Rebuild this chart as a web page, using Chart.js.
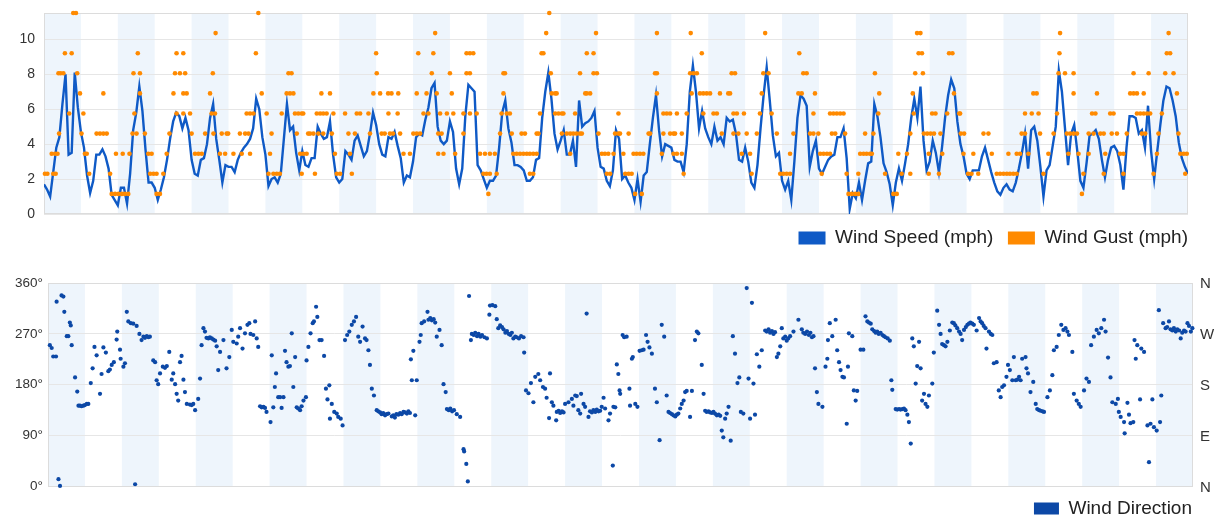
<!DOCTYPE html>
<html><head><meta charset="utf-8">
<script src="https://cdn.jsdelivr.net/npm/chart.js@4.4.1/dist/chart.umd.min.js"></script>
<style>
html,body{margin:0;padding:0;background:#fff;width:1224px;height:520px;overflow:hidden;}
#c1{position:absolute;left:0;top:0;}
#c2{position:absolute;left:0;top:260px;}
</style></head><body>
<canvas id="c1" width="1224" height="258"></canvas>
<canvas id="c2" width="1224" height="268"></canvas>
<script>
// ---- data (x = hours since start, one band = 12 h) ----
const HOURS_MAX = 372;
const BAND_HOURS = 12;
const KNOT_MPH = 1.1508;

// hourly wind speed (mph), hour 0..372
const speedMph = [
1.7,1.4,1.0,2.4,3.8,4.4,6.3,8.0,3.4,3.5,
8.1,6.1,4.7,3.8,2.2,1.2,1.9,3.4,3.4,3.7,
3.3,2.6,1.1,0.8,0.5,1.5,1.5,0.6,2.3,4.8,
5.8,7.3,5.9,3.7,1.8,1.8,1.5,0.8,1.4,2.1,
3.1,4.3,5.3,5.8,5.6,4.9,5.5,4.8,3.1,2.3,
2.2,3.1,3.2,4.0,5.5,6.3,4.3,3.1,1.8,2.8,
2.7,2.7,2.4,3.1,3.5,3.8,4.0,4.3,4.9,6.6,
6.0,4.4,3.4,1.6,2.0,2.1,1.8,2.3,4.3,6.3,
4.8,5.0,3.5,2.5,3.6,2.8,2.7,3.2,3.2,5.0,
4.6,4.3,4.4,5.3,3.4,2.1,1.8,2.0,3.6,3.4,
3.1,4.2,4.5,3.9,3.3,3.6,4.6,5.8,5.1,4.0,
3.4,3.3,4.4,4.3,4.7,3.9,3.2,1.8,2.2,2.1,
3.0,4.4,4.6,4.5,5.4,6.1,7.2,7.5,5.0,4.2,
4.0,4.2,5.3,4.7,2.6,1.7,2.6,5.6,7.4,7.2,
7.0,2.8,2.5,2.0,1.5,1.9,1.9,2.2,3.8,5.8,
6.5,4.9,4.1,2.8,2.8,2.7,2.5,1.9,1.9,2.1,
3.1,3.2,5.5,7.0,8.1,6.6,4.6,3.7,4.2,4.8,
3.4,3.4,4.2,2.7,6.5,5.0,5.2,5.3,5.5,5.9,
3.8,2.7,2.6,1.9,1.6,2.5,4.8,4.3,2.0,2.2,
1.8,1.5,0.8,2.0,0.7,2.2,2.4,4.0,5.5,6.8,
4.8,3.3,4.0,3.9,3.8,3.1,3.0,3.0,2.4,4.0,
7.0,8.5,7.0,4.9,5.9,4.9,4.4,4.0,5.0,4.2,
4.4,4.0,5.5,5.3,5.4,4.6,3.1,3.0,3.8,3.0,
1.8,1.5,2.8,4.9,6.8,8.4,6.5,4.5,3.3,3.5,
1.9,1.4,1.9,0.8,3.0,5.5,6.8,6.6,6.2,2.7,
3.6,4.2,2.6,2.3,2.7,3.1,3.3,3.4,4.4,4.4,
4.9,3.2,0.3,1.2,0.9,1.8,0.8,1.9,2.9,3.0,
6.3,5.6,4.4,2.9,2.4,1.7,0.5,1.8,2.6,1.9,
2.9,4.0,5.5,6.6,5.5,7.3,4.2,2.5,3.0,4.2,
3.5,2.4,3.8,5.5,6.8,7.7,7.2,5.3,4.0,3.3,
2.3,2.0,2.5,2.5,2.5,3.3,3.8,3.1,2.4,1.8,
1.3,1.1,1.5,1.7,1.4,1.3,1.8,2.6,3.5,4.6,
2.6,4.8,5.0,4.2,2.7,1.0,2.5,2.8,3.9,5.0,
8.2,7.0,4.9,2.8,4.6,5.1,3.6,1.9,1.5,2.9,
4.5,4.6,4.8,4.3,3.1,2.1,3.1,3.8,3.9,3.6,
2.8,1.4,3.8,5.6,5.6,5.5,4.6,4.8,3.8,6.2,
3.6,2.0,3.6,5.1,6.5,7.3,7.2,6.5,5.6,4.1,
3.2,2.7,2.3
];

// wind gust readings: hours at which a gust of N knots was reported
const gustKnots1 = [22.0,23.1,24.2,25.3,26.3,27.4,36.6,37.7,144.5,192.2,194.4,261.6,262.7,263.8,264.8,276.2,277.3,337.5];
const gustKnots2 = [0.3,1.1,3.0,3.8,14.7,21.5,34.5,35.6,36.6,38.8,73.0,74.6,75.7,76.7,83.8,88.1,95.2,96.3,100.1,142.9,143.9,145.0,147.2,158.0,159.1,183.0,184.1,189.0,190.1,191.1,208.0,230.1,239.4,240.4,241.5,242.6,252.9,261.0,264.8,273.5,278.9,281.7,287.7,291.0,300.5,301.6,303.8,309.8,310.9,312.0,313.1,314.1,315.2,316.3,325.0,338.0,344.6,351.0,360.8,371.1];
const gustKnots3 = [2.5,3.6,4.4,13.3,13.9,23.4,25.6,27.8,33.9,35.0,39.9,49.1,50.2,51.3,57.2,58.9,61.6,64.3,67.0,73.5,83.3,84.3,85.4,94.6,99.5,116.9,119.0,128.2,129.9,133.7,141.8,143.4,145.0,146.6,152.6,153.7,154.8,155.9,157.0,158.0,159.1,160.2,171.1,181.4,182.4,183.5,185.2,188.4,191.7,192.7,193.8,194.9,200.9,204.7,205.8,207.4,226.9,229.6,242.6,252.4,253.5,254.6,255.6,265.4,266.5,267.5,268.6,269.2,277.8,280.6,287.7,292.1,299.0,302.2,308.2,313.6,316.3,317.4,320.1,326.6,333.1,336.4,339.7,345.1,349.9,351.0,361.9,369.5,370.6,371.6];
const gustKnots4 = [4.9,12.2,17.1,18.2,19.3,20.4,28.8,30.1,32.8,40.8,48.0,52.4,55.1,57.8,59.4,59.9,63.7,65.4,66.5,74.0,82.2,85.9,86.5,87.6,89.2,90.8,93.6,99.0,101.1,106.0,109.8,110.8,112.5,113.5,115.8,120.1,121.2,122.3,128.2,129.3,136.4,148.3,152.1,155.3,156.4,160.2,160.8,168.4,170.0,171.1,172.1,173.2,174.3,174.9,180.3,185.7,186.8,187.3,190.1,196.6,197.1,201.4,203.6,204.7,205.2,207.4,220.4,224.2,225.8,228.5,231.8,238.3,243.7,249.1,250.2,251.8,256.2,257.3,260.5,267.0,269.7,281.7,286.1,287.2,288.3,289.4,291.5,298.1,299.2,305.5,307.1,317.9,319.0,323.9,328.3,332.6,333.7,334.8,335.9,339.7,341.3,343.5,344.6,347.2,348.9,352.1,357.0,358.1,362.4,368.9];
const gustKnots5 = [8.2,12.8,29.4,43.1,45.3,47.5,54.5,55.6,65.9,67.0,68.1,72.4,77.3,81.6,82.7,83.8,84.3,88.7,89.8,90.8,91.9,94.1,97.9,101.7,102.8,105.5,112.0,115.0,123.4,125.0,128.8,131.0,133.1,136.4,138.5,140.7,148.8,150.5,151.5,161.3,166.2,167.3,168.4,168.9,172.7,186.8,201.4,202.5,203.6,205.8,209.0,214.4,217.7,218.8,224.2,225.3,227.6,232.8,236.6,250.2,255.6,256.7,257.8,258.9,260.0,271.3,282.8,288.8,289.9,293.7,297.6,297.9,319.0,321.2,323.4,329.4,340.8,341.9,346.7,347.8,355.4,356.5,357.6,358.7,359.7,363.5];
const gustKnots6 = [11.7,19.3,31.2,42.1,45.3,46.4,54.0,70.8,78.9,80.0,81.1,90.2,93.0,107.1,109.3,111.9,113.0,115.2,121.2,124.4,127.7,132.6,149.4,165.1,166.2,166.7,176.0,176.5,177.6,199.3,210.6,213.3,214.4,215.5,216.6,219.8,222.5,223.1,233.4,245.3,246.4,250.7,271.6,282.5,295.9,321.7,322.8,334.8,342.4,353.2,354.3,355.4,357.6,368.4];
const gustKnots7 = [4.7,5.4,6.3,10.8,29.1,31.2,42.6,44.2,45.9,54.9,79.5,80.5,108.2,126.1,132.0,137.4,138.5,149.4,149.9,164.8,174.3,178.7,179.8,198.7,199.3,210.1,211.2,212.3,223.6,224.7,233.9,235.6,246.9,248.0,270.2,283.3,285.8,329.9,332.0,334.8,354.3,359.2,364.6,367.3];
const gustKnots8 = [6.8,9.0,30.5,43.1,45.3,68.9,108.0,121.7,126.6,137.4,138.5,139.6,161.8,162.4,176.5,178.7,213.9,245.6,284.4,285.5,294.3,295.4,330.2,365.1,366.2];
const gustKnots9 = [55.8,127.2,163.3,179.5,199.3,210.3,234.5,283.9,285.0,330.4,365.7];
const gustKnots10 = [9.5,10.4,69.7,164.3];
const gustLevels = [gustKnots1,gustKnots2,gustKnots3,gustKnots4,gustKnots5,gustKnots6,gustKnots7,gustKnots8,gustKnots9,gustKnots10];

// wind direction readings: [hour, degrees]
const windDirection = [
[0.6,250],[1.2,245],[1.7,230],[2.6,230],[2.8,327],[3.4,13],[3.9,1],[4.4,338],[5.0,336],[5.3,309],[6.1,266],[6.6,266],[7.1,290],[7.4,285],[7.7,250],[8.8,193],[9.5,168],[9.9,143],[10.4,143],[10.9,142],[11.5,143],[12.0,144],[12.6,146],[13.1,146],[13.9,183],[14.5,209],[15.1,247],[15.8,232],[16.9,164],[17.4,199],[18.0,246],[18.8,237],[19.6,204],[20.1,207],[20.7,215],[21.4,220],[22.3,260],[22.5,274],[23.4,242],[23.6,226],[24.5,212],[25.0,218],[25.6,309],[26.1,292],[26.9,289],[27.7,288],[28.3,4],[28.8,284],[29.7,270],[30.4,259],[31.0,265],[31.5,263],[32.1,266],[32.6,264],[33.1,265],[34.2,223],[34.8,220],[35.3,188],[35.8,181],[36.4,200],[37.3,212],[38.0,210],[38.6,213],[39.4,238],[40.2,189],[40.7,200],[41.3,181],[41.8,164],[42.3,152],[42.9,220],[43.4,231],[44.0,189],[44.5,167],[45.1,146],[46.1,145],[46.7,144],[47.2,146],[47.8,135],[48.8,155],[49.4,191],[49.9,250],[50.5,280],[51.0,274],[51.5,263],[52.1,262],[52.6,264],[53.2,262],[53.7,260],[54.3,258],[54.8,248],[55.3,206],[55.9,238],[57.0,259],[58.0,209],[58.9,229],[59.7,277],[60.2,256],[61.3,253],[61.8,265],[62.4,280],[63.2,244],[64.0,271],[64.8,286],[65.4,289],[65.8,270],[66.7,268],[67.3,292],[67.8,262],[68.3,247],[68.9,142],[69.4,140],[70.0,141],[70.5,139],[71.0,132],[72.3,114],[72.7,232],[73.2,140],[73.7,176],[74.1,200],[74.8,158],[75.4,158],[75.9,139],[76.5,158],[77.0,240],[77.5,220],[78.1,212],[78.6,213],[79.2,271],[79.7,176],[80.3,229],[80.8,140],[81.3,138],[81.9,135],[82.4,142],[83.0,152],[83.8,158],[84.0,223],[84.6,247],[85.3,271],[86.0,289],[86.4,292],[87.1,318],[87.5,300],[88.2,259],[88.9,259],[89.7,231],[90.3,173],[90.8,154],[91.4,179],[91.6,120],[92.2,146],[93.0,132],[93.8,129],[94.3,123],[95.1,120],[95.7,108],[96.5,259],[97.2,268],[97.9,274],[98.7,286],[99.4,292],[100.1,300],[100.8,265],[101.4,256],[102.2,283],[103.0,262],[103.5,259],[104.1,241],[104.6,215],[105.2,173],[105.9,161],[106.8,135],[107.3,133],[107.9,131],[108.4,128],[108.9,130],[109.5,126],[110.0,128],[110.6,129],[111.7,124],[112.2,126],[112.7,122],[113.2,128],[113.8,127],[114.4,130],[114.9,128],[115.5,132],[116.0,131],[116.6,129],[117.1,133],[117.6,130],
[117.9,225],[118.2,188],[118.7,240],[119.3,126],[119.8,188],[120.7,256],[121.1,268],[121.4,289],[122.2,292],[123.3,309],[123.6,295],[124.2,298],[124.7,294],[125.3,296],[125.8,290],[126.3,265],[127.2,277],[127.9,250],[128.5,181],[129.2,167],[129.6,137],[130.2,135],[130.7,138],[131.3,133],[131.9,135],[132.8,128],[133.9,123],[135.0,66],[135.2,62],[135.9,40],[136.4,9],[136.8,337],[137.4,259],[137.7,270],[138.3,268],[138.8,272],[139.4,266],[139.9,270],[140.5,265],[141.0,268],[141.8,264],[142.6,262],[143.4,304],[143.6,320],[144.4,321],[145.3,319],[145.8,296],[146.3,280],[146.9,285],[147.5,282],[148.0,278],[148.6,272],[149.1,275],[149.7,270],[150.2,268],[150.7,272],[151.2,262],[151.8,265],[152.3,264],[153.0,262],[153.7,266],[154.5,264],[154.7,237],[155.3,170],[156.1,165],[156.9,183],[157.7,149],[158.3,194],[159.3,199],[159.9,188],[160.8,176],[161.5,173],[162.0,157],[162.8,121],[163.1,200],[163.7,149],[164.2,143],[165.1,117],[165.3,132],[165.9,134],[166.4,130],[167.0,133],[167.5,131],[168.0,146],[169.1,149],[170.2,155],[170.7,143],[171.3,161],[171.8,160],[172.3,135],[172.9,129],[173.2,164],[174.0,146],[174.5,141],[175.0,306],[175.6,123],[176.1,133],[176.7,131],[177.2,135],[177.8,132],[178.3,136],[178.9,133],[179.4,134],[179.9,141],[180.5,157],[181.0,138],[182.1,117],[182.6,129],[183.5,37],[183.7,141],[184.3,140],[184.8,216],[185.3,199],[185.7,170],[185.9,164],[186.7,268],[187.2,264],[188.0,265],[188.9,173],[189.1,143],[189.7,226],[190.0,229],[190.8,146],[191.5,141],[192.2,240],[192.9,241],[193.5,242],[194.3,268],[194.8,256],[195.4,246],[196.2,235],[197.2,173],[197.8,149],[198.7,82],[199.4,286],[200.2,265],[201.0,161],[201.6,132],[202.1,130],[202.7,128],[203.2,126],[203.8,124],[204.3,127],[204.8,129],[205.4,138],[205.9,146],[206.5,152],[207.0,167],[207.5,169],[208.6,123],[209.2,169],[210.2,259],[210.8,274],[211.3,271],[212.4,215],[213.0,164],[213.5,134],[214.0,132],[214.6,133],[215.1,131],[215.7,130],[216.2,132],[216.7,129],[217.3,126],[217.9,127],[218.4,125],[218.9,99],[219.4,87],[220.0,120],[220.5,129],[221.1,141],[221.8,81],[222.5,266],[223.2,235],[224.0,183],[224.6,193],[225.1,132],[225.9,129],[227.0,351],[227.6,191],[228.1,120],[228.7,325],[229.2,182],[229.7,127],[230.3,234],[231.1,212],[231.9,241],[233.0,276],[233.5,274],[234.1,278],[234.6,272],[235.2,275],[235.7,270],[236.2,273],[236.8,229],[237.3,235],[237.9,248],[238.4,280],[238.9,262],[239.5,265],[240.0,258],[240.5,262],[241.1,266],[242.2,274],[243.8,295],[244.9,278],[245.4,272],[246.0,270],[246.6,274],[247.2,268],[247.7,272],[248.2,264],[248.7,266],[249.2,209],[249.8,167],[250.3,146],
[251.6,141],[252.6,212],[253.2,226],[253.4,259],[254.0,289],[254.8,266],[255.9,295],[256.4,241],[257.0,220],[257.5,206],[258.1,194],[258.6,193],[259.5,111],[259.9,212],[260.2,271],[261.3,266],[261.8,170],[262.4,152],[262.9,169],[264.0,242],[264.9,242],[265.6,301],[266.2,292],[266.7,290],[267.3,288],[267.8,278],[268.4,275],[268.9,272],[269.4,274],[269.9,270],[270.5,272],[271.1,268],[271.6,266],[272.1,264],[272.8,262],[273.5,258],[274.0,188],[274.3,171],[275.4,137],[275.9,136],[276.5,137],[277.0,136],[277.6,137],[278.1,138],[278.6,135],[279.2,127],[279.7,114],[280.3,76],[280.8,262],[281.3,248],[281.9,182],[282.4,213],[283.0,256],[283.5,209],[284.0,152],[284.6,164],[285.1,146],[285.7,141],[286.2,161],[287.3,182],[287.8,237],[288.9,311],[289.5,286],[290.0,270],[290.5,252],[291.1,250],[291.6,248],[292.2,256],[293.0,276],[293.8,290],[294.3,289],[294.8,285],[295.4,280],[296.0,274],[296.5,270],[297.0,259],[297.6,277],[298.2,282],[298.7,286],[299.2,288],[299.7,290],[300.3,288],[300.8,286],[301.7,276],[302.5,298],[303.0,292],[303.5,289],[304.0,284],[304.6,280],[304.9,244],[305.7,274],[306.3,270],[306.8,268],[307.3,218],[308.2,220],[308.9,170],[309.5,158],[310.0,176],[310.6,179],[311.4,194],[311.9,215],[312.5,206],[313.3,188],[313.8,229],[314.4,188],[314.9,189],[315.5,194],[316.0,188],[316.5,226],[317.6,229],[317.9,209],[318.4,200],[319.2,167],[320.1,185],[320.9,146],[321.4,137],[322.0,135],[322.5,134],[323.1,133],[323.6,132],[324.7,158],[325.5,170],[326.3,197],[326.8,241],[327.7,247],[328.4,268],[329.2,286],[329.9,277],[330.6,280],[331.2,274],[331.7,268],[332.8,238],[333.3,164],[334.2,152],[334.9,146],[335.5,141],[336.6,170],[337.4,191],[338.2,185],[338.9,250],[339.8,265],[340.7,277],[341.4,271],[342.2,280],[343.1,295],[343.6,274],[344.4,228],[345.2,193],[345.8,149],[346.9,146],[347.6,155],[347.9,132],[348.5,123],[349.6,114],[349.8,94],[350.7,148],[351.2,127],[351.7,112],[352.6,114],[353.0,259],[353.4,226],[353.9,250],[354.8,154],[355.2,244],[356.1,238],[357.2,108],[357.7,43],[358.2,111],[358.8,154],[359.3,105],[360.2,99],[360.9,312],[361.3,114],[361.7,161],[362.3,289],[363.1,280],[363.6,282],[364.2,292],[364.7,278],[365.3,276],[365.8,280],[366.4,274],[366.9,278],[367.5,276],[368.0,262],[368.5,272],[369.1,276],[369.6,274],[370.2,289],[370.7,284],[371.3,274],[371.8,280]
];

const speedTicks = [0,2,4,6,8,10];
const dirTickLabels = ['0°','90°','180°','270°','360°'];
const compassLabels = ['N','E','S','W','N'];

// ---- build chart data ----
const speedData = speedMph.map((v, h) => ({x: h, y: v}));
const gustData = [];
gustLevels.forEach((hours, i) => hours.forEach(h => gustData.push({x: h, y: (i + 1) * KNOT_MPH})));
const dirData = windDirection.map(p => ({x: p[0], y: p[1]}));

const FONT = "'Liberation Sans', Arial, Helvetica, sans-serif";
Chart.defaults.font.family = FONT;
Chart.defaults.color = '#333';
const BLUE = '#0f5ac6';
const ORANGE = '#ff8a00';
const DIRBLUE = '#0c48a6';
const BAND = '#eef5fc';

const bandPlugin = {
  id: 'bands',
  beforeDraw(chart) {
    const {ctx, chartArea: a, scales: {x}} = chart;
    ctx.save();
    ctx.fillStyle = BAND;
    for (let h = 0; h < HOURS_MAX; h += 2 * BAND_HOURS) {
      const x0 = x.getPixelForValue(h);
      const x1 = x.getPixelForValue(Math.min(h + BAND_HOURS, HOURS_MAX));
      ctx.fillRect(x0, a.top, x1 - x0, a.bottom - a.top);
    }
    ctx.restore();
  },
  beforeDatasetsDraw(chart) {
    const {ctx, chartArea: a} = chart;
    ctx.save();
    ctx.strokeStyle = '#dcdcdc';
    ctx.lineWidth = 1;
    ctx.strokeRect(Math.round(a.left) + 0.5, Math.round(a.top) + 0.5, Math.round(a.right - a.left) - 1, Math.round(a.bottom - a.top) - 1);
    ctx.restore();
  }
};

// compass letters beside the right-hand direction scale
const compassPlugin = {
  id: 'compass',
  afterDraw(chart) {
    const s = chart.scales.yR;
    if (!s) return;
    const {ctx, chartArea: a} = chart;
    ctx.save();
    ctx.font = '15px ' + FONT;
    ctx.fillStyle = '#333';
    ctx.textAlign = 'left';
    ctx.textBaseline = 'middle';
    compassLabels.forEach((t, i) => ctx.fillText(t, a.right + 7, s.getPixelForValue(i * 90) + 1));
    ctx.restore();
  }
};

function legendLabels(chart) {
  const items = Chart.defaults.plugins.legend.labels.generateLabels(chart);
  items.forEach(it => { it.lineWidth = 0; });
  return items;
}

new Chart(document.getElementById('c1'), {
  type: 'line',
  data: { datasets: [
    { label: 'Wind Speed (mph)', data: speedData, borderColor: BLUE, backgroundColor: BLUE, borderWidth: 2.4, pointRadius: 0, tension: 0, order: 1 },
    { type: 'scatter', label: 'Wind Gust (mph)', data: gustData, backgroundColor: ORANGE, borderColor: ORANGE, borderWidth: 0, pointRadius: 2.3, order: 0, clip: false }
  ]},
  options: {
    responsive: false, animation: false, devicePixelRatio: 1,
    layout: { padding: { left: 0, right: 21.5, top: 13, bottom: 0.5 } },
    plugins: {
      legend: { position: 'bottom', align: 'end',
        labels: { boxWidth: 27, boxHeight: 13, padding: 14.5, font: { size: 19 }, color: '#222',
          generateLabels: legendLabels, sort: (a, b) => a.datasetIndex - b.datasetIndex } },
      tooltip: { enabled: false }
    },
    scales: {
      x: { type: 'linear', min: 0, max: HOURS_MAX, display: false },
      y: { min: 0, max: 10 * KNOT_MPH,
        grid: { color: '#e6e6e6', drawTicks: true, tickLength: 6, tickColor: 'rgba(0,0,0,0)' }, border: { display: false },
        afterBuildTicks(s) { s.ticks = speedTicks.map(v => ({value: v})); },
        ticks: { padding: 3, font: { size: 14 }, color: '#333' },
        afterFit(s) { s.width = 44; } },
      yR: { position: 'right', grid: { display: false }, border: { display: false }, ticks: { display: false },
        afterFit(s) { s.width = 14.5; } }
    }
  },
  plugins: [bandPlugin]
});

new Chart(document.getElementById('c2'), {
  type: 'scatter',
  data: { datasets: [
    { label: 'Wind Direction', data: dirData, backgroundColor: DIRBLUE, borderColor: DIRBLUE, borderWidth: 0, pointRadius: 2.1, clip: false }
  ]},
  options: {
    responsive: false, animation: false, devicePixelRatio: 1,
    layout: { padding: { left: 0, right: 19.5, top: 23, bottom: 0 } },
    plugins: {
      legend: { position: 'bottom', align: 'end',
        labels: { boxWidth: 25, boxHeight: 12, padding: 12.5, font: { size: 19 }, color: '#222', generateLabels: legendLabels } },
      tooltip: { enabled: false }
    },
    scales: {
      x: { type: 'linear', min: 0, max: HOURS_MAX, display: false },
      y: { min: 0, max: 360, grid: { color: '#e6e6e6', drawTicks: false }, border: { display: false },
        afterBuildTicks(s) { s.ticks = dirTickLabels.map((t, i) => ({value: i * 90})); },
        ticks: { padding: 5, font: { size: 13.5 }, color: '#333', callback: (v, i) => dirTickLabels[i] },
        afterFit(s) { s.width = 48; } },
      yR: { position: 'right', min: 0, max: 360, grid: { display: false }, border: { display: false },
        ticks: { display: false },
        afterFit(s) { s.width = 11.5; } }
    }
  },
  plugins: [bandPlugin, compassPlugin]
});
</script>
</body></html>
